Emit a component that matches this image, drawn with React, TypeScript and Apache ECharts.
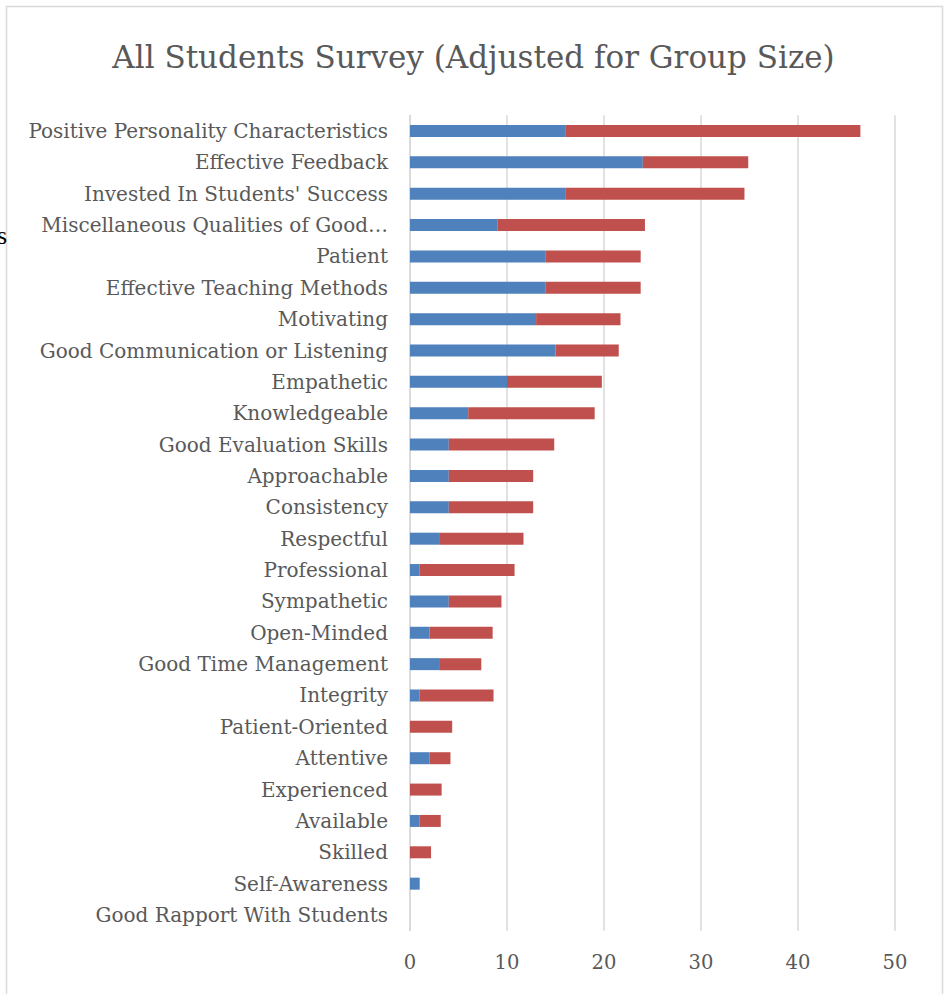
import React, { useEffect, useRef } from "react";
import * as echarts from "echarts";

const categories = [
  "Positive Personality Characteristics",
  "Effective Feedback",
  "Invested In Students' Success",
  "Miscellaneous Qualities of Good…",
  "Patient",
  "Effective Teaching Methods",
  "Motivating",
  "Good Communication or Listening",
  "Empathetic",
  "Knowledgeable",
  "Good Evaluation Skills",
  "Approachable",
  "Consistency",
  "Respectful",
  "Professional",
  "Sympathetic",
  "Open-Minded",
  "Good Time Management",
  "Integrity",
  "Patient-Oriented",
  "Attentive",
  "Experienced",
  "Available",
  "Skilled",
  "Self-Awareness",
  "Good Rapport With Students",
];

const blueValues = [16, 24, 16, 9, 14, 14, 13, 15, 10, 6, 4, 4, 4, 3, 1, 4, 2, 3, 1, 0, 2, 0, 1, 0, 1, 0];
const redValues = [
  30.43, 10.87, 18.48, 15.22, 9.78, 9.78, 8.7, 6.52, 9.78, 13.04, 10.87, 8.7, 8.7, 8.7, 9.78, 5.43, 6.52,
  4.35, 7.61, 4.35, 2.17, 3.26, 2.17, 2.17, 0, 0,
];
const xTicks = [0, 10, 20, 30, 40, 50];

const titleText = "All Students Survey (Adjusted for Group Size)";
const serif = "'DejaVu Serif', 'Liberation Serif', serif";

export default function App() {
  const ref = useRef<HTMLDivElement>(null);
  useEffect(() => {
    document.body.style.margin = "0";
    if (!ref.current) return;
    const chart = echarts.init(ref.current, undefined, { renderer: "svg" });
    chart.setOption({
      animation: false,
      backgroundColor: "#ffffff",
      title: {
        text: titleText,
        left: "center",
        top: 36,
        textStyle: { fontFamily: serif, fontSize: 31, fontWeight: "normal", color: "#595959" },
      },
      graphic: [
        {
          type: "rect",
          shape: { x: 6.5, y: 6.5, width: 936, height: 1000 },
          style: { fill: "none", stroke: "#d9d9d9", lineWidth: 1.5 },
          z: -1,
        },
        {
          type: "text",
          left: -3,
          top: 222,
          style: { text: "s", font: "26px 'Liberation Serif', serif", fill: "#000000" },
        },
      ],
      grid: { left: 410, right: 52, top: 115.3, bottom: 63.3, containLabel: false },
      xAxis: {
        type: "value",
        min: xTicks[0],
        max: xTicks[xTicks.length - 1],
        interval: 10,
        axisLine: { show: false },
        axisTick: { show: false },
        splitLine: { show: true, lineStyle: { color: "#d9d9d9", width: 1.5 } },
        axisLabel: { margin: 22, fontFamily: serif, fontSize: 19.5, color: "#595959" },
      },
      yAxis: {
        type: "category",
        data: categories,
        inverse: true,
        axisLine: { show: true, lineStyle: { color: "#d9d9d9", width: 1.5 } },
        axisTick: { show: false },
        axisLabel: { margin: 22, fontFamily: serif, fontSize: 20, color: "#595959" },
      },
      series: [
        {
          name: "Blue",
          type: "bar",
          stack: "total",
          data: blueValues,
          barWidth: 12,
          itemStyle: { color: "#4f81bd" },
        },
        {
          name: "Red",
          type: "bar",
          stack: "total",
          data: redValues,
          barWidth: 12,
          itemStyle: { color: "#c0504d" },
        },
      ],
    });
    return () => chart.dispose();
  }, []);
  return <div ref={ref} style={{ width: 947, height: 994 }} />;
}
